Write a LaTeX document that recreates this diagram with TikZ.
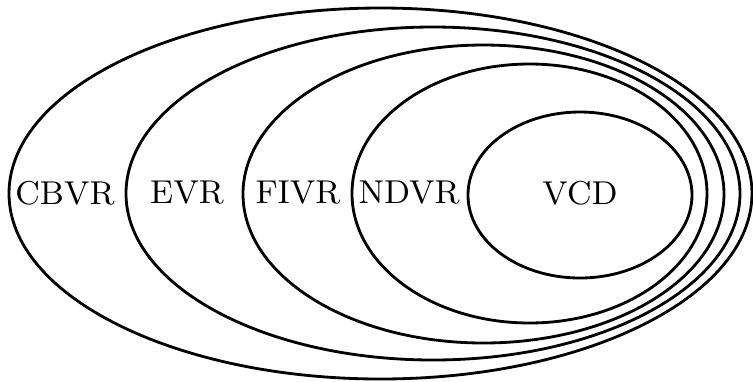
\documentclass[tikz,border=0pt]{standalone}
\begin{document}
\begin{tikzpicture}[x=0.01cm, y=-0.01cm, set/.style={thick}, lbl/.style={font=\fontsize{9.4pt}{11pt}\selectfont}]
		\useasboundingbox (0, 0) rectangle (753, 381);
		
		% Nested sets
		\draw[set] (380.5, 193.5) ellipse [x radius=371.5, y radius=185.5];
		\draw[set] (433, 193.5) ellipse [x radius=307, y radius=166.5];
		\draw[set] (483.5, 194) ellipse [x radius=240.5, y radius=149];
		\draw[set] (529.5, 193.5) ellipse [x radius=177.5, y radius=129.5];
		\draw[set] (580, 195) ellipse [x radius=112, y radius=83];
		
		% Labels
		\node[lbl] (cbvr) at (65, 193) {CBVR};
		\node[lbl] (evr) at (187, 193) {EVR};
		\node[lbl] (fivr) at (298, 193) {FIVR};
		\node[lbl] (ndvr) at (409, 193) {NDVR};
		\node[lbl] (vcd) at (580, 193) {VCD};
	\end{tikzpicture}
\end{document}
